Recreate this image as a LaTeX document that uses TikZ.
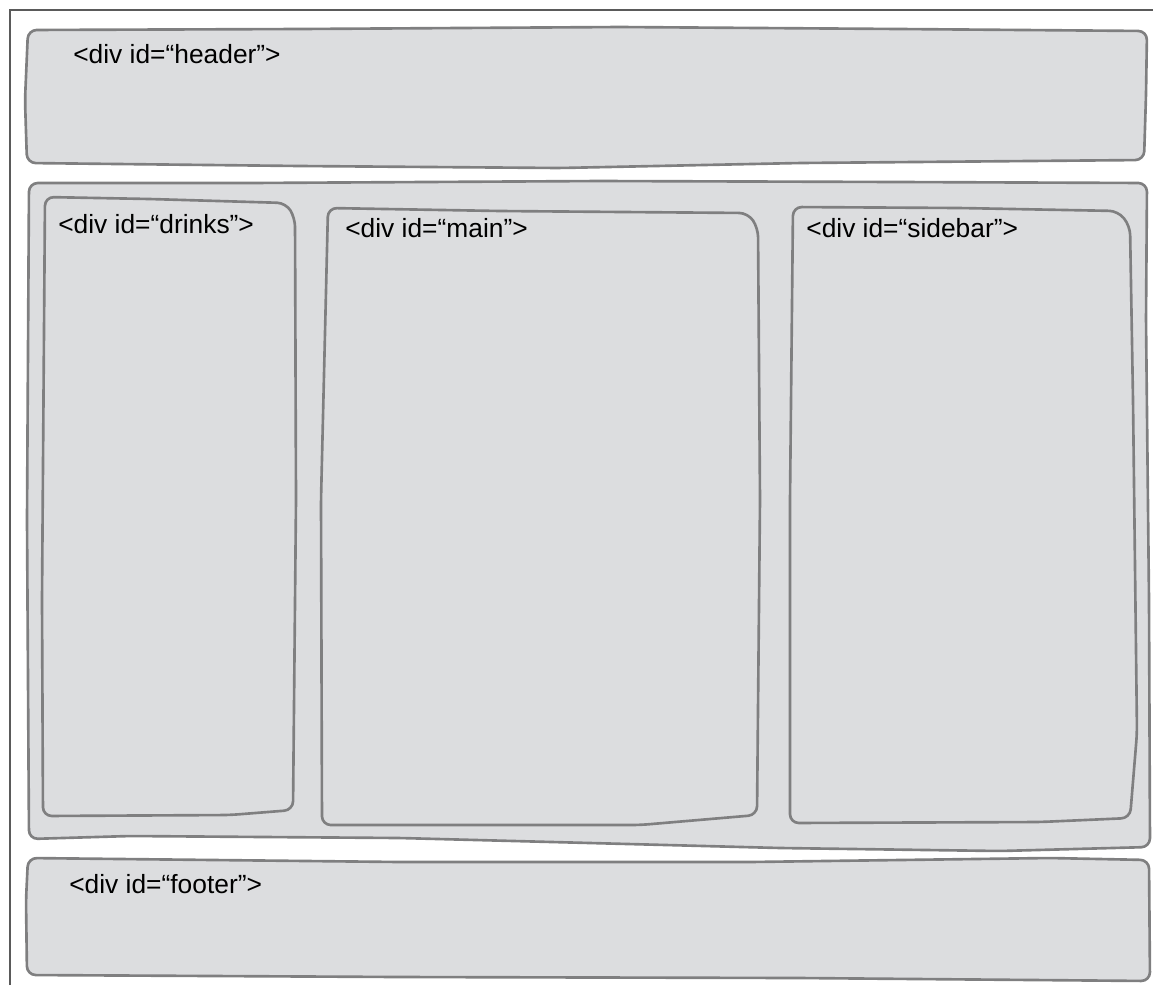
\documentclass[tikz,border=0pt]{standalone}
\usepackage{fontspec}
\setmainfont{Liberation Sans}
\usepackage{tikz}
\usepackage{xcolor}
\definecolor{boxfill}{HTML}{DCDDDF}
\definecolor{boxline}{HTML}{7F7F80}
\definecolor{frameline}{HTML}{5A5A5A}
\tikzset{
  divbox/.style={draw=boxline, fill=boxfill, line width=1.5pt, rounded corners=5pt, line join=round},
  divlabel/.style={anchor=base west, inner sep=0pt, font=\fontsize{15}{18}\selectfont},
}

\begin{document}
\begin{tikzpicture}[x=0.02cm, y=-0.02cm]
    \useasboundingbox (0,0) rectangle (1153,985);

    % Page frame
    \draw[frameline, line width=1.6pt] (10,985) -- (10,10) -- (1153,10);

    % Header
    \draw[divbox] (28,30) -- (300,29) -- (620,27) -- (900,29) -- (1147,31) -- (1146,95)
        -- (1144,160) -- (800,163) -- (560,168) -- (300,166) -- (27,163) -- (25,100) -- cycle;
    \node[divlabel] (header) at (73,63) {<div id=“header”>};

    % Wrapper round the three columns
    \draw[divbox] (29,183) -- (250,183) -- (600,181) -- (900,182) -- (1147,183) -- (1146,320)
        -- (1149,600) -- (1150,847) -- (1000,851) -- (780,848) -- (400,838) -- (130,836)
        -- (29,839) -- (27,520) -- cycle;

    % Drinks column
    \draw[divbox] (45,197) -- (150,199) -- (286,203) -- (295,218) -- (296,500) -- (293,810)
        -- (230,815) -- (43,816) -- (42,600) -- cycle;
    \node[divlabel] (drinks) at (58,233) {<div id=“drinks”>};

    % Main column
    \draw[divbox] (328,208) -- (500,211) -- (748,213) -- (758,228) -- (760,500) -- (757,815)
        -- (640,825) -- (322,825) -- (321,500) -- cycle;
    \node[divlabel] (main) at (345,237) {<div id=“main”>};

    % Sidebar column
    \draw[divbox] (793,207) -- (960,208) -- (1118,211) -- (1130,226) -- (1133,400) -- (1137,733)
        -- (1130,818) -- (1040,822) -- (790,823) -- (790,500) -- cycle;
    \node[divlabel] (sidebar) at (806,237) {<div id=“sidebar”>};

    % Footer
    \draw[divbox] (28,858) -- (400,862) -- (750,862) -- (1050,858) -- (1149,860) -- (1150,981)
        -- (800,978) -- (400,977) -- (27,975) -- (26,900) -- cycle;
    \node[divlabel] (footer) at (69,893) {<div id=“footer”>};
\end{tikzpicture}
\end{document}
